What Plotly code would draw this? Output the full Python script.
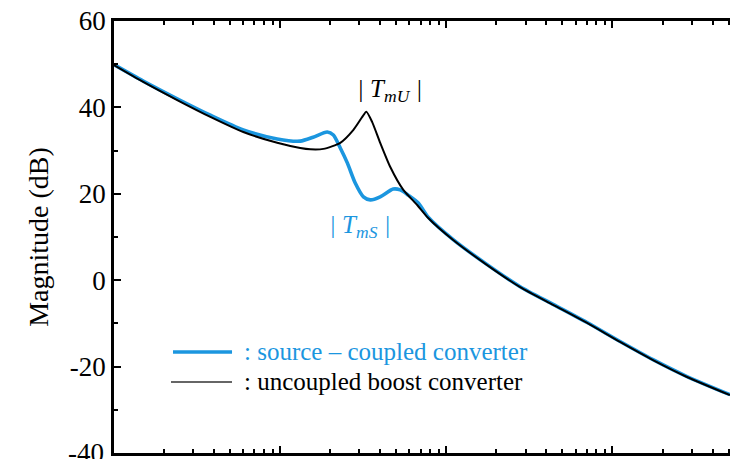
import plotly.graph_objects as go

# Loop-gain magnitude, frequency in Hz
freq_uncoupled = [10, 15, 24, 38, 60, 96, 132, 152, 182, 230, 276, 312, 330,
                  358, 400, 460, 551, 668, 778, 1100, 1762, 2782, 4393, 7036,
                  11110, 17540, 28090, 50950]
mag_uncoupled = [49.8, 45.9, 41.7, 37.8, 34.3, 31.8, 30.6, 30.3, 30.4, 31.8,
                 34.8, 37.8, 39.0, 36.6, 31.8, 26.2, 20.9, 17.4, 14.4, 9.3,
                 3.5, -1.6, -5.7, -9.9, -14.3, -18.5, -22.4, -26.6]

freq_coupled = [10, 15, 24, 38, 60, 96, 132, 158, 192, 209, 230, 254, 283,
                317, 349, 400, 479, 528, 590, 678, 778, 1100, 1762, 2782,
                4393, 7036, 11110, 17540, 28090, 50950]
mag_coupled = [49.9, 46.1, 42.0, 38.2, 34.8, 32.7, 32.2, 33.1, 34.3, 33.6,
               30.6, 27.1, 22.5, 19.3, 18.6, 19.3, 21.1, 20.9, 19.7, 17.9,
               14.6, 9.4, 3.6, -1.5, -5.6, -9.8, -14.2, -18.4, -22.3, -26.5]

y_ticks = [-40, -20, 0, 20, 40, 60]
y_min, y_max = -40, 60

BLUE = "#1b96df"
SERIF = "Liberation Serif"

fig = go.Figure()
fig.add_trace(go.Scatter(
    x=freq_coupled, y=mag_coupled, mode="lines",
    line=dict(color=BLUE, width=3.6, shape="spline", smoothing=0.7),
    showlegend=False, name="source-coupled converter"))
fig.add_trace(go.Scatter(
    x=freq_uncoupled, y=mag_uncoupled, mode="lines",
    line=dict(color="black", width=2, shape="spline", smoothing=0.6),
    showlegend=False, name="uncoupled boost converter"))

# Curve labels (x in log10 units on the log axis)
fig.add_annotation(x=2.6566, y=44.0, xref="x", yref="y", showarrow=False,
                   text="<i>| T<sub>mU</sub> |</i>",
                   font=dict(family=SERIF, size=25, color="black"))
fig.add_annotation(x=2.4823, y=12.5, xref="x", yref="y", showarrow=False,
                   text="<i>| T<sub>mS</sub> |</i>",
                   font=dict(family=SERIF, size=25, color=BLUE))

# Bottom tick label sits on the figure edge, so it is placed explicitly
fig.add_annotation(x=0, y=y_min, xref="paper", yref="y", showarrow=False,
                   xanchor="right", yanchor="middle", xshift=-8,
                   text=str(y_min), font=dict(family=SERIF, size=27))

# Hand-made legend
fig.add_shape(type="line", xref="paper", yref="paper",
              x0=0.0958, x1=0.1916, y0=0.2338, y1=0.2338,
              line=dict(color=BLUE, width=3.5))
fig.add_shape(type="line", xref="paper", yref="paper",
              x0=0.0925, x1=0.1916, y0=0.1644, y1=0.1644,
              line=dict(color="#333333", width=1.3))
fig.add_annotation(x=0.2078, y=0.2338, xref="paper", yref="paper",
                   xanchor="left", yanchor="middle", showarrow=False,
                   text=": source \u2013 coupled converter",
                   font=dict(family=SERIF, size=25, color=BLUE))
fig.add_annotation(x=0.2078, y=0.1644, xref="paper", yref="paper",
                   xanchor="left", yanchor="middle", showarrow=False,
                   text=": uncoupled boost converter",
                   font=dict(family=SERIF, size=25, color="black"))

fig.update_layout(
    width=730, height=459,
    margin=dict(l=114, r=0, t=21, b=6),
    plot_bgcolor="white", paper_bgcolor="white",
    font=dict(family=SERIF, size=27, color="black"),
)
fig.update_xaxes(
    type="log", range=[1, 4.7072], dtick=1,
    showticklabels=False, showgrid=False, zeroline=False,
    showline=True, linecolor="black", linewidth=2.5, mirror="ticks",
    ticks="inside", ticklen=7, tickwidth=1.5, tickcolor="black",
    minor=dict(dtick="D1", ticks="inside", ticklen=4, tickwidth=1.5,
               tickcolor="black", showgrid=False),
)
fig.update_yaxes(
    range=[y_min, y_max], tickvals=y_ticks,
    ticktext=["" if v == y_min else str(v) for v in y_ticks],
    showgrid=False, zeroline=False,
    showline=True, linecolor="black", linewidth=2.5, mirror=False,
    ticks="inside", ticklen=7, tickwidth=1.5, tickcolor="black",
    minor=dict(dtick=10, ticks="inside", ticklen=4, tickwidth=1.5,
               tickcolor="black", showgrid=False),
    title=dict(text="Magnitude (dB)", font=dict(family=SERIF, size=28),
               standoff=14),
    tickfont=dict(family=SERIF, size=27),
)

fig.write_html("out.html")
